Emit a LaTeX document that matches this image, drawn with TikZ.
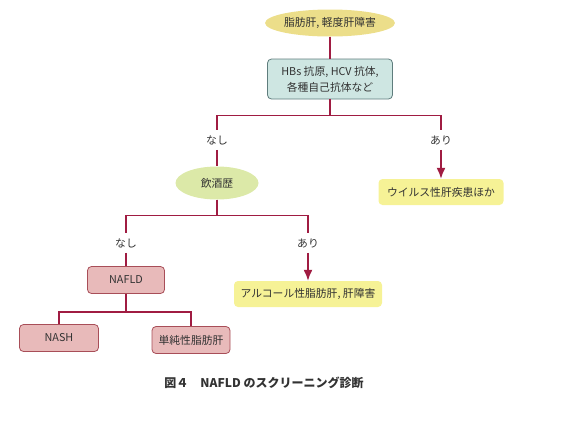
\documentclass[tikz,border=0pt]{standalone}
\usepackage{fontspec}
\setmainfont{Noto Sans CJK JP}
\usetikzlibrary{shapes,arrows.meta,positioning}
\definecolor{linkred}{RGB}{160,28,66}
\definecolor{textgrey}{RGB}{50,50,50}
\definecolor{khaki}{RGB}{236,222,138}
\definecolor{paleteal}{RGB}{206,230,226}
\definecolor{tealedge}{RGB}{95,125,125}
\definecolor{palegreen}{RGB}{220,233,168}
\definecolor{paleyellow}{RGB}{246,242,150}
\definecolor{palepink}{RGB}{232,186,186}
\definecolor{pinkedge}{RGB}{168,78,88}

\begin{document}
\begin{tikzpicture}[node distance=56pt, auto,
    font=\fontsize{10.8}{16}\selectfont, text=textgrey,
    start/.style={ellipse, fill=khaki, inner sep=0pt, minimum width=115pt, minimum height=27pt},
    test/.style={rectangle, rounded corners=4pt, draw=tealedge, fill=paleteal, line width=0.8pt, align=center, minimum width=125pt, minimum height=40pt},
    drink/.style={ellipse, fill=palegreen, inner sep=0pt, minimum width=83pt, minimum height=33pt},
    result/.style={rectangle, rounded corners=4pt, fill=paleyellow, minimum width=125pt, minimum height=26pt},
    pinkbox/.style={rectangle, rounded corners=4pt, draw=pinkedge, fill=palepink, line width=0.8pt, minimum width=77pt, minimum height=27pt},
    answer/.style={fill=white, inner sep=5pt},
    link/.style={draw=linkred, line width=1.5pt},
    arrow/.style={link, -{Latex[length=11pt,width=9pt]}}]
    \useasboundingbox (0,0) rectangle (584pt,-421pt);
    \node [start] (liver) at (330pt,-23pt) {脂肪肝, 軽度肝障害};
    \node [test, below of=liver] (serum) {HBs 抗原, HCV 抗体,\\各種自己抗体など};
    \node [drink, below of=serum, node distance=104pt, xshift=-113pt] (alcohol) {飲酒歴};
    \node [result, below of=serum, node distance=113pt, xshift=111pt] (virus) {ウイルス性肝疾患ほか};
    \node [answer, above of=alcohol, node distance=43pt] (no1) {なし};
    \node [answer, above of=virus, node distance=52pt] (yes1) {あり};
    \node [pinkbox, below of=alcohol, node distance=97pt, xshift=-91pt] (nafld) {NAFLD};
    \node [result, below of=alcohol, node distance=111pt, xshift=91pt, minimum width=148pt] (alcfat) {アルコール性脂肪肝, 肝障害};
    \node [answer, above of=nafld, node distance=37pt] (no2) {なし};
    \node [answer, above of=alcfat, node distance=51pt] (yes2) {あり};
    \node [pinkbox, below of=nafld, node distance=58pt, xshift=-67pt, minimum width=79pt] (nash) {NASH};
    \node [pinkbox, below of=nafld, node distance=60pt, xshift=65pt, minimum width=78pt] (simple) {単純性脂肪肝};
    \node [font=\fontsize{12}{14}\selectfont\bfseries] (caption) at (264pt,-383pt) {図４　NAFLD のスクリーニング診断};
    \draw [link] (liver) -- (serum);
    \draw [link] (serum.south) -- ++(0,-16pt) -| (no1);
    \draw [link] (serum.south) -- ++(0,-16pt) -| (yes1);
    \draw [link] (no1) -- (alcohol);
    \draw [arrow] (yes1) -- (virus);
    \draw [link] (alcohol.south) -- ++(0,-16pt) -| (no2);
    \draw [link] (alcohol.south) -- ++(0,-16pt) -| (yes2);
    \draw [link] (no2) -- (nafld);
    \draw [arrow] (yes2) -- (alcfat);
    \draw [link] (nafld.south) -- ++(0,-18pt) -| (nash);
    \draw [link] (nafld.south) -- ++(0,-18pt) -| (simple);
  \end{tikzpicture}
\end{document}
